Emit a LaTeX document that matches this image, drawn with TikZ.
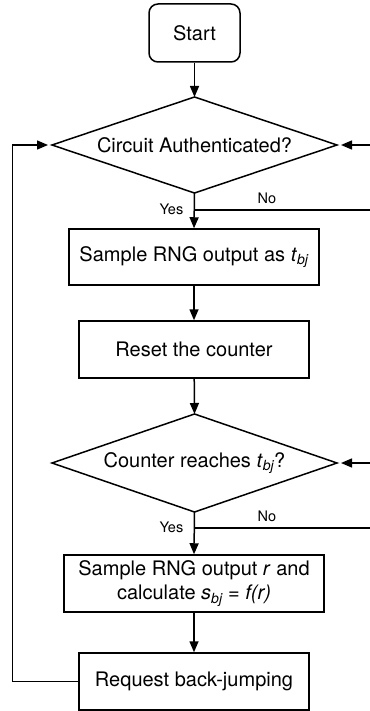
\documentclass[tikz,border=0pt]{standalone}
\usepackage{fontspec}
\setmainfont{TeX Gyre Heros}
\usetikzlibrary{arrows.meta}
\newcommand\subbj{\textsubscript{\itshape bj}}
\begin{document}
\begin{tikzpicture}[x=1pt,y=-1pt,
  line width=1.5pt,
  every node/.style={font=\fontsize{20}{24}\selectfont, inner sep=0pt},
  procbox/.style={draw, rectangle, align=center},
  arr/.style={-{Triangle[length=11pt,width=9pt]}},
  lbl/.style={font=\fontsize{14.5}{16}\selectfont}
]
\useasboundingbox (0,0) rectangle (369,711);
\node[procbox, rounded corners=9pt, minimum width=91pt, minimum height=58pt] (start) at (194.5,33) {Start};
% decision 1
\node (d1) at (194.5,145) {Circuit Authenticated?};
\coordinate (d1n) at (194.5,97);
\coordinate (d1s) at (194.5,193);
\coordinate (d1w) at (52,145);
\coordinate (d1e) at (337,145);
\draw (d1n) -- (d1e) -- (d1s) -- (d1w) -- cycle;
\node[procbox, minimum width=250pt, minimum height=56pt] (b1) at (194,257) {Sample RNG output as \textit{t}\subbj};
\node[procbox, minimum width=230pt, minimum height=57pt] (b2) at (194,349.5) {Reset the counter};
% decision 2
\node (d2) at (194.5,463) {Counter reaches \textit{t}\subbj?};
\coordinate (d2n) at (194.5,414);
\coordinate (d2s) at (194.5,512);
\coordinate (d2w) at (52,463);
\coordinate (d2e) at (337,463);
\draw (d2n) -- (d2e) -- (d2s) -- (d2w) -- cycle;
\node[procbox, minimum width=260pt, minimum height=57pt] (b3) at (194,583.5) {Sample RNG output \textit{r} and\\calculate \textit{s}\subbj{} = \textit{f(r)}};
\node[procbox, minimum width=230pt, minimum height=57pt] (b4) at (194,681.5) {Request back-jumping};

\coordinate (j1) at (194.5,210);
\coordinate (j2) at (194.5,528);
\coordinate (r1) at (374,210);
\coordinate (r2) at (374,528);
\coordinate (l1) at (12.5,681.5);
\coordinate (l2) at (12.5,145);

\draw[arr] (start) -- (d1n);
\draw[arr] (d1s) -- (b1.north);
\draw[arr] (b1) -- (b2);
\draw[arr] (b2) -- (d2n);
\draw[arr] (d2s) -- (b3.north);
\draw[arr] (b3) -- (b4);

\draw[arr, shorten >=4pt] (j1) -- (r1) -- (r1 |- d1e) -- (d1e);
\draw[arr, shorten >=4pt] (j2) -- (r2) -- (r2 |- d2e) -- (d2e);
\draw[arr, shorten >=4pt] (b4.west) -- (l1) -- (l2) -- (d1w);

\node[lbl, anchor=east] (yes1) at (184,209) {Yes};
\node[lbl] (no1) at (267,198) {No};
\node[lbl, anchor=east] (yes2) at (184,527) {Yes};
\node[lbl] (no2) at (267,516) {No};
\end{tikzpicture}
\end{document}
